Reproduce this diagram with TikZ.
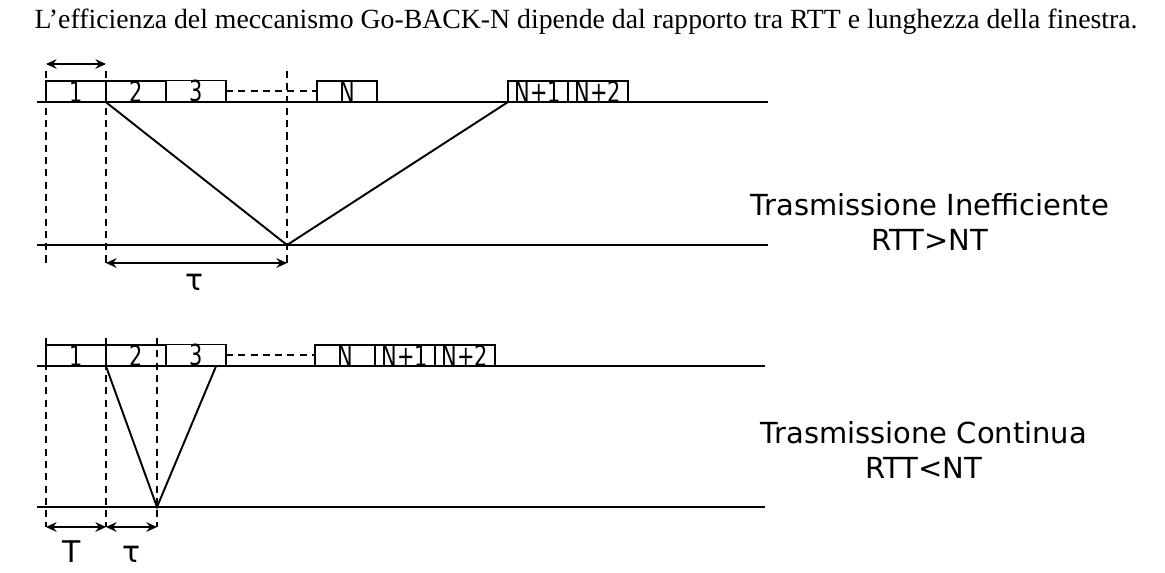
\documentclass[tikz,border=0pt]{standalone}
\usepackage{fontspec}
\setmainfont{Liberation Serif}
\newfontfamily\tahoma{DejaVu Sans}
\newfontfamily\tahomac[FakeStretch=0.8]{DejaVu Sans Condensed}
\usetikzlibrary{positioning,arrows.meta}
\begin{document}
\begin{tikzpicture}[x=0.02cm,y=-0.02cm,line width=1.1pt]
	\tikzset{pkt/.style={draw,rectangle,inner sep=0pt,outer sep=0pt,minimum width=1.2cm,minimum height=0.38cm,font=\tahomac\fontsize{16.5}{16.5}\selectfont},
		lbl/.style={font=\tahoma\fontsize{16.5}{20}\selectfont,align=center},
		gr/.style={font=\tahoma\fontsize{17}{17}\selectfont,anchor=base},
		tratt/.style={dash pattern=on 4pt off 3pt},
		dd/.style={{Stealth[length=6pt,width=5.5pt]}-{Stealth[length=6pt,width=5.5pt]}}}
	\useasboundingbox(0,0)rectangle(1165,572);
	\node[font=\fontsize{15.8}{18}\selectfont](titolo) at (586,22){L’efficienza del meccanismo Go-BACK-N dipende dal rapporto tra RTT e lunghezza della finestra.};
	%%Trasmissione inefficiente
	\draw(37,102)coordinate(s1)--(768,102)coordinate(e1);
	\draw(37,245)coordinate(r1)--(768,245)coordinate(f1);
	\node[pkt,anchor=south west](a1) at (46,102){1};
	\node[pkt,right=0pt of a1](a2){2};
	\node[pkt,right=0pt of a2](a3){3};
	\node[pkt,anchor=south west](aN) at (317,102){N};
	\node[pkt,anchor=south west](aN1) at (508,102){N+1};
	\node[pkt,right=0pt of aN1](aN2){N+2};
	\draw[tratt](a3.east)--(aN.west);
	\coordinate(A) at (287,245);
	\draw(a2.south west)--(A)--(aN1.south west);
	\foreach \x in {46,106,287}
	\draw[tratt](\x,71)--(\x,265);
	\draw[dd](46,64)coordinate(p1)--(106,64)coordinate(p2);
	\draw[dd](106,263)coordinate(q1)--(287,263)coordinate(q2);
	\node[gr](tau1) at (194,290){τ};
	\node[lbl](ineff) at (930,222){Trasmissione Inefficiente\\RTT>NT};
	%%Trasmissione continua
	\draw(37,366)coordinate(s2)--(765,366)coordinate(e2);
	\draw(37,507)coordinate(r2)--(765,507)coordinate(f2);
	\node[pkt,anchor=south west](b1) at (46,366){1};
	\node[pkt,right=0pt of b1](b2){2};
	\node[pkt,right=0pt of b2](b3){3};
	\node[pkt,anchor=south west](bN) at (315,366){N};
	\node[pkt,right=0pt of bN](bN1){N+1};
	\node[pkt,right=0pt of bN1](bN2){N+2};
	\draw[tratt](b3.east)--(bN.west);
	\coordinate(B) at (157,507);
	\draw(b2.south west)--(B)--([xshift=-0.2cm]b3.south east);
	\foreach \x in {46,106,157}
	\draw[tratt](\x,338)--(\x,527);
	\draw[dd](46,527)coordinate(t1)--(106,527)coordinate(t2);
	\draw[dd](106,527)--(157,527)coordinate(t3);
	\node[gr](T) at (72,562){T};
	\node[gr](tau2) at (131,562){τ};
	\node[lbl](cont) at (924,450){Trasmissione Continua\\RTT<NT};
\end{tikzpicture}
\end{document}
